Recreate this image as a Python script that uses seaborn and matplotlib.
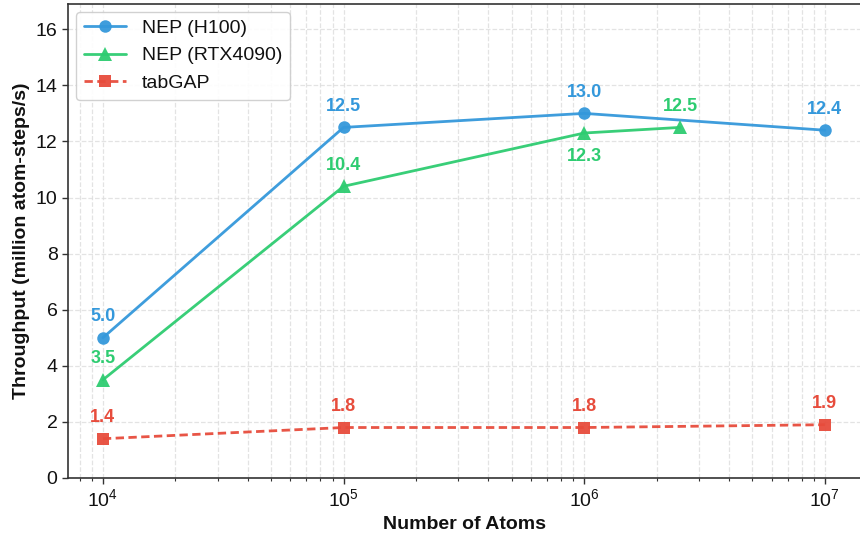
import matplotlib
matplotlib.use("Agg")
import matplotlib.pyplot as plt
import seaborn as sns
import numpy as np
from matplotlib.ticker import LogLocator, NullFormatter

sns.set_style("ticks")
plt.rcParams['font.family'] = ['Liberation Sans', 'DejaVu Sans']
plt.rcParams['mathtext.fontset'] = 'custom'
plt.rcParams['mathtext.rm'] = 'Liberation Sans'
plt.rcParams['mathtext.it'] = 'Liberation Sans:italic'
plt.rcParams['mathtext.bf'] = 'Liberation Sans:bold'

h100_x = [1e4, 1e5, 1e6, 1e7]
h100_y = [5.0, 12.5, 13.0, 12.4]
rtx_x = [1e4, 1e5, 1e6, 2.5e6]
rtx_y = [3.5, 10.4, 12.3, 12.5]
tab_x = [1e4, 1e5, 1e6, 1e7]
tab_y = [1.4, 1.8, 1.8, 1.9]

c_blue = "#3498db"
c_green = "#2ecc71"
c_red = "#e74c3c"

fig = plt.figure(figsize=(8.6, 5.37), dpi=100)
ax = fig.add_axes([68/860, 59/537, 793/860, 474/537])

sns.lineplot(x=h100_x, y=h100_y, ax=ax, color=c_blue, marker='o', markersize=9,
             linewidth=2, label='NEP (H100)', markeredgewidth=0, alpha=0.95)
sns.lineplot(x=rtx_x, y=rtx_y, ax=ax, color=c_green, marker='^', markersize=10,
             linewidth=2, label='NEP (RTX4090)', markeredgewidth=0, alpha=0.95)
sns.lineplot(x=tab_x, y=tab_y, ax=ax, color=c_red, marker='s', markersize=9,
             linewidth=2, label='tabGAP', markeredgewidth=0, alpha=0.95,
             linestyle='--')
ax.lines[2].set_dashes((3, 1.6))

ax.set_xscale('log')
ax.set_ylim(0, 16.9)
ax.set_xlim(10**3.855, 10**7.15)
ax.set_yticks(np.arange(0, 17, 2))

ax.xaxis.set_major_locator(LogLocator(base=10, numticks=10))
ax.xaxis.set_minor_locator(LogLocator(base=10, subs=np.arange(2, 10), numticks=20))
ax.xaxis.set_minor_formatter(NullFormatter())

ax.grid(True, which='major', linestyle='--', color='#dddddd', linewidth=0.9, alpha=0.8)
ax.grid(True, which='minor', axis='x', linestyle='--', color='#dddddd', linewidth=0.9, alpha=0.8)
ax.set_axisbelow(True)

ax.tick_params(axis='both', which='major', labelsize=14, length=4, width=1,
               color='#333333', labelcolor='#111111')
ax.tick_params(axis='x', which='minor', length=2.5, width=0.8, color='#333333')
for s in ax.spines.values():
    s.set_color('#333333')
    s.set_linewidth(1.2)

ax.set_xlabel('Number of Atoms', fontsize=14, fontweight='bold', labelpad=4, color='#111111')
ax.set_ylabel('Throughput (million atom-steps/s)', fontsize=14, fontweight='bold', color='#111111')

for x, y in zip(h100_x, h100_y):
    ax.annotate(f"{y:.1f}", (x, y), textcoords='offset points', xytext=(0, 9),
                ha='center', va='bottom', fontsize=13, fontweight='bold', color=c_blue)
rtx_off = [9, 9, -11, 9]
for (x, y), off in zip(zip(rtx_x, rtx_y), rtx_off):
    ax.annotate(f"{y:.1f}", (x, y), textcoords='offset points', xytext=(0, off),
                ha='center', va='bottom' if off > 0 else 'top', fontsize=13,
                fontweight='bold', color=c_green)
for x, y in zip(tab_x, tab_y):
    ax.annotate(f"{y:.1f}", (x, y), textcoords='offset points', xytext=(0, 9),
                ha='center', va='bottom', fontsize=13, fontweight='bold', color=c_red)

leg = ax.legend(loc='upper left', fontsize=14, frameon=True, fancybox=True,
                framealpha=0.9, edgecolor='#cccccc', handlelength=2.2,
                borderaxespad=0.4)
for t in leg.get_texts():
    t.set_color('#111111')

fig.savefig('out.png', dpi=100)
